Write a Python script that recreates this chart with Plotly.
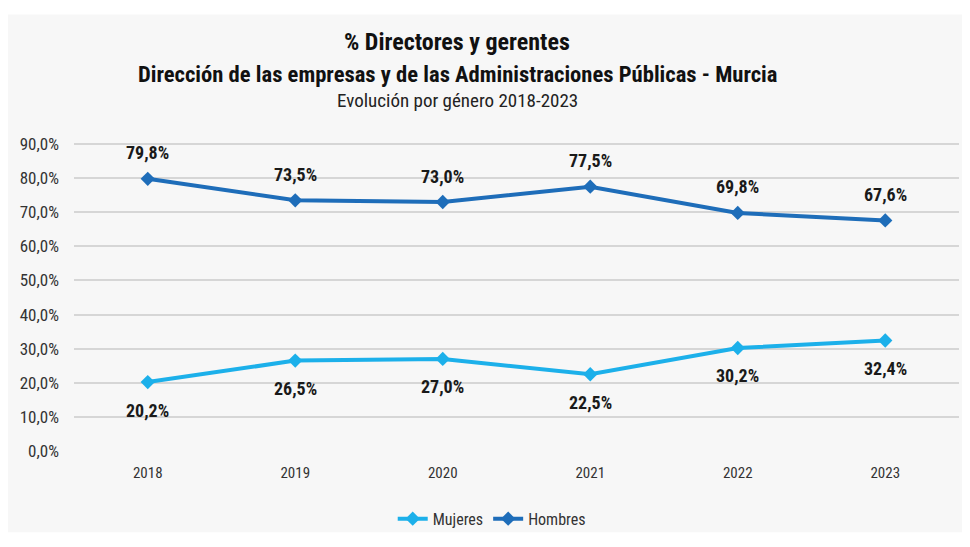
import plotly.graph_objects as go

years = ["2018", "2019", "2020", "2021", "2022", "2023"]
mujeres = [20.2, 26.5, 27.0, 22.5, 30.2, 32.4]
hombres = [79.8, 73.5, 73.0, 77.5, 69.8, 67.6]
y_ticks = [0, 10, 20, 30, 40, 50, 60, 70, 80, 90]
y_ticktext = ["0,0%", "10,0%", "20,0%", "30,0%", "40,0%", "50,0%", "60,0%", "70,0%", "80,0%", "90,0%"]

FONT = "Roboto Condensed, Arial Narrow, Liberation Sans Narrow, Roboto, sans-serif"
C_MUJ = "#1cb0ea"
C_HOM = "#1e6db9"

fig = go.Figure()
fig.add_trace(go.Scatter(
    x=years, y=mujeres, name="Mujeres", mode="lines+markers",
    line=dict(color=C_MUJ, width=4), marker=dict(symbol="diamond", size=11, color=C_MUJ),
))
fig.add_trace(go.Scatter(
    x=years, y=hombres, name="Hombres", mode="lines+markers",
    line=dict(color=C_HOM, width=4), marker=dict(symbol="diamond", size=11, color=C_HOM),
))

def fmt(v):
    return "<b>" + f"{v:.1f}".replace(".", ",") + "%</b>"

annotations = []
for i, v in enumerate(hombres):
    annotations.append(dict(x=i, y=v, xref="x", yref="y", yshift=26, showarrow=False,
                            text=fmt(v), font=dict(size=18, color="#1a1a1a", family=FONT)))
for i, v in enumerate(mujeres):
    annotations.append(dict(x=i, y=v, xref="x", yref="y", yshift=-28, showarrow=False,
                            text=fmt(v), font=dict(size=18, color="#1a1a1a", family=FONT)))

annotations += [
    dict(text="<b>% Directores y gerentes</b>", xref="paper", yref="paper",
         x=(457 - 74) / 885, y=(457 - 40) / 314, xanchor="center", yanchor="middle",
         showarrow=False, font=dict(size=24, color="#111111", family=FONT)),
    dict(text="<b>Dirección de las empresas y de las Administraciones Públicas - Murcia</b>",
         xref="paper", yref="paper",
         x=(457 - 74) / 885, y=(457 - 73) / 314, xanchor="center", yanchor="middle",
         showarrow=False, font=dict(size=22.6, color="#111111", family=FONT)),
    dict(text="Evolución por género 2018-2023", xref="paper", yref="paper",
         x=(457 - 74) / 885, y=(457 - 100) / 314, xanchor="center", yanchor="middle",
         showarrow=False, font=dict(size=19, color="#222222", family=FONT)),
]

fig.update_layout(
    width=962, height=539,
    margin=dict(l=66, r=11, t=135, b=90),
    paper_bgcolor="white", plot_bgcolor="#f7f7f7",
    font=dict(family=FONT, color="#333333"),
    showlegend=True,
    legend=dict(orientation="h", x=0.472, xanchor="center", y=-0.22, yanchor="middle",
                font=dict(size=16, color="#333333", family=FONT), bgcolor="rgba(0,0,0,0)"),
    xaxis=dict(type="category", range=[-0.5, 5.5], showgrid=False, zeroline=False,
               showline=False, automargin=False, ticks="",
               tickfont=dict(size=15, color="#333333"), ticklabelstandoff=11),
    yaxis=dict(range=[0, 90.3], tickvals=y_ticks, ticktext=y_ticktext, automargin=False,
               showgrid=True, gridcolor="#d6d6d6", gridwidth=1.5, zeroline=False,
               showline=False, tickfont=dict(size=17, color="#333333"), ticklabelstandoff=14),
    shapes=[dict(type="rect", xref="paper", yref="paper", x0=-0.078, x1=1.0068,
                 y0=-0.264, y1=1.417, fillcolor="#f7f7f7", line=dict(width=0), layer="below")],
    annotations=annotations,
)

fig.write_html("out.html")
